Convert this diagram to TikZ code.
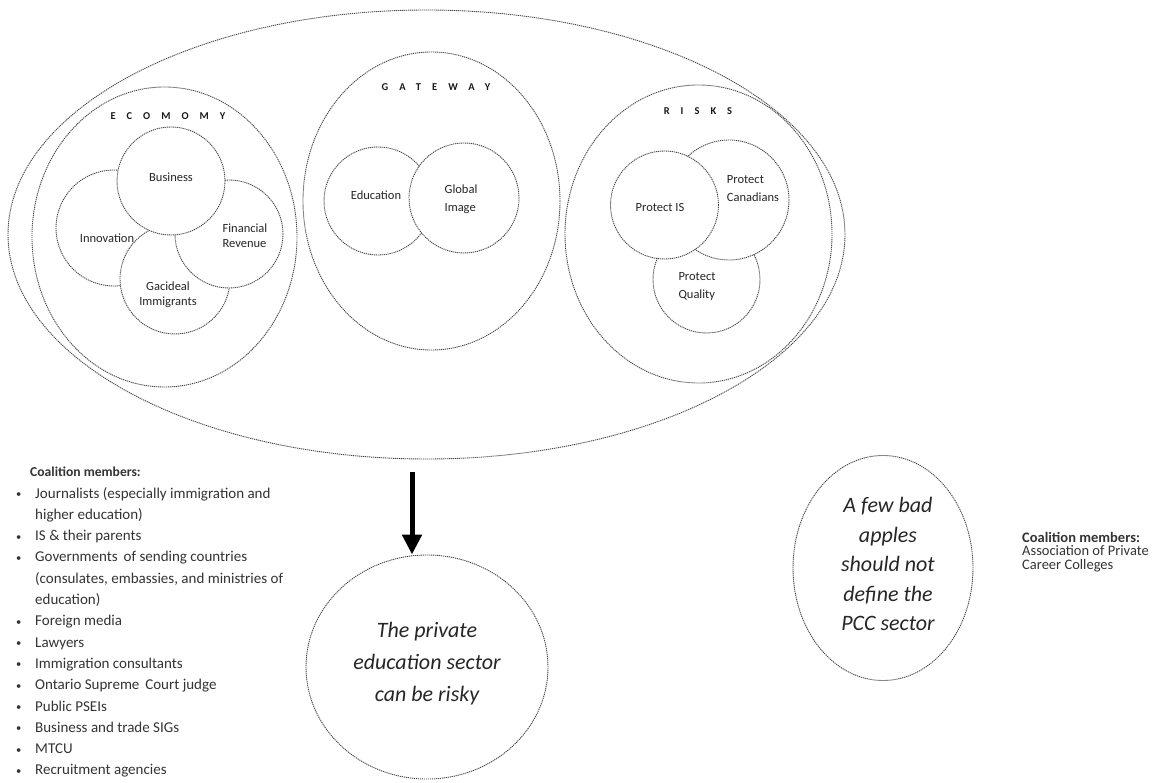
\documentclass[tikz,border=0pt]{standalone}
\usepackage{fontspec}
\setmainfont{Carlito}
\usetikzlibrary{shapes.geometric,arrows.meta}
\tikzset{
  dline/.style={draw=black!72, line width=0.9pt, dash pattern=on 1.2pt off 0.8pt},
  oval/.style={dline, ellipse, inner sep=0pt},
  bub/.style={dline, circle, fill=white, inner sep=0pt},
  ttl/.style={inner sep=0pt, text=black!90, font=\fontsize{10.5}{13}\selectfont\bfseries\addfontfeature{LetterSpace=105}},
  etx/.style={inner sep=0pt, text=black!85, font=\fontsize{12.5}{15}\selectfont},
  gtx/.style={inner sep=0pt, text=black!85, font=\fontsize{12.5}{18}\selectfont},
  itx/.style={inner sep=0pt, align=center, text=black!85, font=\fontsize{22}{32}\selectfont\itshape},
  itxb/.style={inner sep=0pt, align=center, text=black!85, font=\fontsize{22}{29.5}\selectfont\itshape},
  lst/.style={inner sep=0pt, align=left, anchor=north west, text=black!80, font=\fontsize{15}{21.3}\selectfont},
  bigarrow/.style={line width=5pt, -{Triangle[width=19pt,length=20pt]}}
}
\newcommand\bul{\makebox[19pt][l]{\raisebox{0.5pt}{\scalebox{0.7}{•}}}}
\newcommand\ind{\hspace*{19pt}}
\begin{document}
\begin{tikzpicture}[x=1pt,y=-1pt]
\useasboundingbox (0,0) rectangle (1159,783);
% outer ovals
\node[oval, minimum width=837pt, minimum height=449pt] (world) at (426.5,234.5) {};
\node[oval, minimum width=265pt, minimum height=300pt] (eco) at (164.5,237) {};
\node[oval, minimum width=257pt, minimum height=298pt] (gate) at (431.5,201) {};
\node[oval, minimum width=267pt, minimum height=298pt] (risk) at (698.5,234) {};
% titles
\node[ttl] (ecot) at (168,116) {ECOMOMY};
\node[ttl] (gatet) at (436,87) {GATEWAY};
\node[ttl] (riskt) at (698,111) {RISKS};
% economy bubbles
\node[bub, minimum size=116pt] (inno) at (114,228) {};
\node[etx] (innot) at (107,238) {Innovation};
\node[bub, minimum size=110pt] (gac) at (175,279) {};
\node[etx, align=center] (gact) at (168,294.5) {Gacideal\\Immigrants};
\node[bub, minimum size=108pt] (fin) at (229,234) {};
\node[etx, align=left] (fint) at (245,235.5) {Financial\\Revenue};
\node[bub, minimum size=108pt] (bus) at (171,181) {};
\node[etx] (bust) at (171,177) {Business};
% gateway bubbles
\node[bub, minimum size=108pt] (edu) at (378,201) {};
\node[gtx] (edut) at (376,195) {Education};
\node[bub, minimum size=110pt] (glob) at (464,198) {};
\node[gtx, align=left] (globt) at (461,199) {Global\\Image};
% risks bubbles
\node[bub, minimum size=107pt] (qual) at (706.5,279.5) {};
\node[gtx, align=left] (qualt) at (697,286) {Protect\\Quality};
\node[bub, minimum size=120pt] (can) at (729,200) {};
\node[gtx, align=left] (cant) at (753,189) {Protect\\Canadians};
\node[bub, minimum size=108pt] (pis) at (664.5,205) {};
\node[gtx] (pist) at (660,207) {Protect IS};
% bottom: private education sector
\node[oval, minimum width=242pt, minimum height=224pt] (risky) at (427,667) {};
\node[itx] (riskyt) at (427,664) {The private\\education sector\\can be risky};
\coordinate (arrtop) at (412,472);
\draw[bigarrow] (arrtop) -- (risky.north -| arrtop);
% right circle
\node[oval, minimum width=180pt, minimum height=225pt] (apples) at (883,568) {};
\node[itxb] (applest) at (888,564) {A few bad\\apples\\should not\\define the\\PCC sector};
% coalition lists
\node[lst] (coal1) at (16,467) {\hspace*{14pt}{\fontsize{13.6}{13}\selectfont\bfseries Coalition members:}\\
\bul Journalists (especially immigration and\\
\ind higher education)\\
\bul IS \& their parents\\
\bul Governments\, of sending countries\\
\ind (consulates, embassies, and ministries of\\
\ind education)\\
\bul Foreign media\\
\bul Lawyers\\
\bul Immigration consultants\\
\bul Ontario Supreme\, Court judge\\
\bul Public PSEIs\\
\bul Business and trade SIGs\\
\bul MTCU\\
\bul Recruitment agencies};
\node[inner sep=0pt, align=left, anchor=north west, text=black!80, font=\fontsize{14.5}{13.5}\selectfont] (coal2) at (1022,532) {\textbf{Coalition members:}\\Association of Private\\Career Colleges};
\end{tikzpicture}
\end{document}
